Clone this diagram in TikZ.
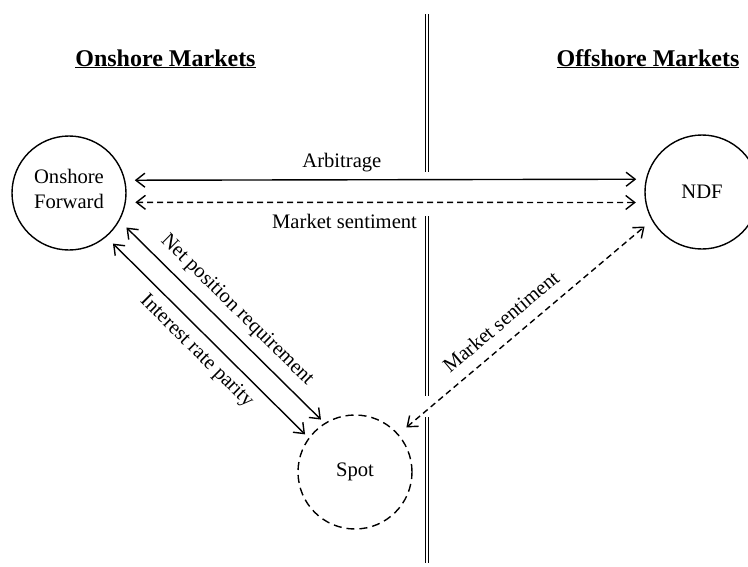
\documentclass[tikz,border=0pt]{standalone}
\usepackage{fontspec}
\setmainfont{Liberation Serif}
\usetikzlibrary{arrows.meta}
\begin{document}
\begin{tikzpicture}[x=1pt,y=-1pt,
  every node/.style={font=\fontsize{20.6}{25}\selectfont},
  circ/.style={draw, circle, line width=1.4pt, minimum size=114pt, inner sep=0pt, outer sep=10pt, align=center},
  arr/.style={line width=1.4pt, {Straight Barb[length=9pt,width=14pt]}-{Straight Barb[length=9pt,width=14pt]}},
  dsh/.style={dash pattern=on 6pt off 4pt},
  cdsh/.style={dash pattern=on 8pt off 5pt},
  lbl/.style={inner sep=0pt},
  divider/.style={double, double distance=2.2pt, line width=1.1pt},
  heading/.style={font=\fontsize{24}{29}\selectfont\bfseries, anchor=base, inner sep=0pt}
]
\useasboundingbox (0,0) rectangle (748,566);

% headings
\node[heading] (hon) at (165.5,66) {\underline{Onshore Markets}};
\node[heading] (hoff) at (648,66) {\underline{Offshore Markets}};

% divider
\draw[divider] (426.75,14) -- (426.75,172);
\draw[divider] (426.75,216) -- (426.75,396);
\draw[divider] (426.75,417) -- (426.75,563);

% nodes
\node[circ, text depth=8pt] (onf) at (69,193) {Onshore\\Forward};
\node[circ] (ndf) at (702,192) {NDF};
\node[circ, cdsh, outer sep=5.5pt] (spot) at (355,472) {Spot};

% connectors
\draw[arr] (onf.11.2) -- (ndf.169.7)
  node[lbl, pos=0.413, above=7.5pt] (arb) {Arbitrage};
\draw[arr, dsh] (onf.-8.6) -- (ndf.189.5)
  node[lbl, pos=0.418, below=11pt] (ms1) {Market sentiment};
\draw[arr] (onf.-31.1) -- (spot.123.9)
  node[lbl, midway, sloped, above=9pt] (npr) {Net position requirement};
\draw[arr] (onf.-49.3) -- (spot.143.5)
  node[lbl, midway, sloped, below=8pt] (irp) {Interest rate parity};
\draw[arr, dsh, shorten <=5.5pt] (spot.41.4) -- (ndf.211.4)
  node[lbl, pos=0.46, sloped, above=12pt] (ms2) {Market sentiment};
\end{tikzpicture}
\end{document}
